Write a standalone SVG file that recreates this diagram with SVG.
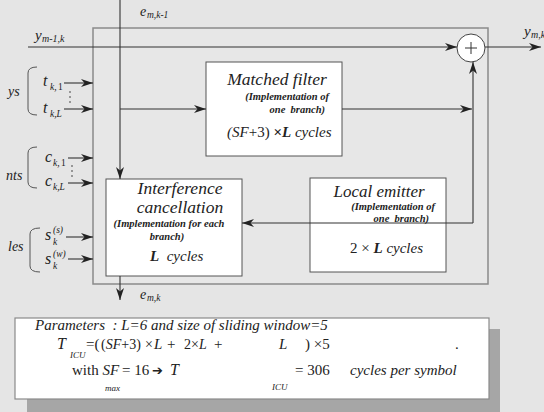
<svg xmlns="http://www.w3.org/2000/svg" width="544" height="412" viewBox="0 0 544 412" font-family="'Liberation Serif', 'DejaVu Serif', 'Times New Roman', serif">
<style>
text{fill:#222;font-family:'Liberation Serif','DejaVu Serif',serif}
.i{font-style:italic}
.bi{font-style:italic;font-weight:bold}
.b{font-weight:bold}
.ln{stroke:#333;stroke-width:1.1;fill:none}
.box{fill:#fff;stroke:#555;stroke-width:1}
.br{stroke:#555;stroke-width:1;fill:none}
</style>
<defs>
<marker id="ah" markerUnits="userSpaceOnUse" markerWidth="13" markerHeight="9" refX="12" refY="4.5" orient="auto">
<path d="M0,0.5 L12,4.5 L0,8.5 L3.5,4.5 z" fill="#222"/>
</marker>
</defs>
<rect x="0" y="0" width="544" height="412" fill="#e5e5e5"/>
<rect x="93" y="28" width="395" height="256" fill="#e7e7e7" stroke="#8a8a8a" stroke-width="1.5"/>

<g id="matched-filter">
<rect class="box" x="206" y="62" width="136" height="94"/>
<text class="i" x="277" y="85" font-size="17.5" text-anchor="middle">Matched filter</text>
<text class="bi" x="329" y="100" font-size="10.5" text-anchor="end">(Implementation of</text>
<text class="bi" x="325" y="113" font-size="10.5" text-anchor="end" xml:space="preserve">one  branch)</text>
<text x="227" y="137" font-size="15"><tspan class="i">(SF</tspan>+3) <tspan class="b">×</tspan><tspan class="bi">L</tspan> <tspan class="i">cycles</tspan></text>
</g>

<g id="interference-cancellation">
<rect class="box" x="106" y="179" width="136" height="97"/>
<text class="i" x="180" y="194" font-size="17.5" text-anchor="middle">Interference</text>
<text class="i" x="180" y="213" font-size="17.5" text-anchor="middle">cancellation</text>
<text class="bi" x="169" y="227" font-size="10.5" text-anchor="middle">(Implementation for each</text>
<text class="bi" x="167" y="240" font-size="10.5" text-anchor="middle">branch)</text>
<text x="150" y="261" font-size="15" xml:space="preserve"><tspan class="bi">L</tspan>  <tspan class="i">cycles</tspan></text>
</g>

<g id="local-emitter">
<rect class="box" x="310" y="178" width="136" height="94"/>
<text class="i" x="379" y="197" font-size="17" text-anchor="middle">Local emitter</text>
<text class="bi" x="435" y="210" font-size="10.5" text-anchor="end">(Implementation of</text>
<text class="bi" x="429" y="222" font-size="10.5" text-anchor="end" xml:space="preserve">one  branch)</text>
<text x="350" y="253" font-size="15">2 × <tspan class="bi">L</tspan> <tspan class="i">cycles</tspan></text>
</g>

<g id="inputs">
<path class="br" d="M37,67 Q28,67 28,73 L28,109 Q28,115 37,115"/>
<text class="i" x="8" y="96" font-size="14">ys</text>
<text class="i" x="43" y="86" font-size="16">t</text>
<text class="i" x="50" y="90" font-size="9.5">k,</text>
<text x="58" y="90" font-size="9.5">1</text>
<text class="i" x="43" y="113" font-size="16">t</text>
<text class="i" x="50" y="117" font-size="9.5">k,L</text>
<path class="br" d="M37,147 Q28,147 28,153 L28,182 Q28,188 37,188"/>
<text class="i" x="6" y="180" font-size="14">nts</text>
<text class="i" x="45" y="162" font-size="16">c</text>
<text class="i" x="53" y="166" font-size="9.5">k,</text>
<text x="61" y="166" font-size="9.5">1</text>
<text class="i" x="45" y="186" font-size="16">c</text>
<text class="i" x="53" y="190" font-size="9.5">k,L</text>
<path class="br" d="M40,228 Q30,228 30,234 L30,266 Q30,272 40,272"/>
<text class="i" x="8" y="251" font-size="14">les</text>
<text class="i" x="45" y="240" font-size="16">s</text>
<text class="i" x="53" y="245" font-size="9.5">k</text>
<text class="i" x="53" y="233" font-size="9.5">(s)</text>
<text class="i" x="45" y="264" font-size="16">s</text>
<text class="i" x="53" y="269" font-size="9.5">k</text>
<text class="i" x="53" y="257" font-size="9.5">(w)</text>
<text class="i" x="35" y="40" font-size="15">y</text>
<text class="i" x="42" y="42" font-size="10">m-1,k</text>
<text class="i" x="140" y="16" font-size="14">e</text>
<text class="i" x="147" y="18" font-size="9.5">m,k-1</text>
<text class="i" x="140" y="299" font-size="14">e</text>
<text class="i" x="147" y="301" font-size="9.5">m,k</text>
<text class="i" x="524" y="36" font-size="15">y</text>
<text class="i" x="531" y="38" font-size="10">m,k</text>
</g>

<g id="connectors">
<g fill="#333">
<circle cx="70" cy="92" r="0.8"/><circle cx="70" cy="97" r="0.8"/><circle cx="70" cy="102" r="0.8"/>
<circle cx="72" cy="166" r="0.8"/><circle cx="72" cy="171" r="0.8"/><circle cx="72" cy="176" r="0.8"/>
</g>
<path class="ln" d="M64,83 H93" marker-end="url(#ah)"/>
<path class="ln" d="M64,109 H93" marker-end="url(#ah)"/>
<path class="ln" d="M68,158 H93" marker-end="url(#ah)"/>
<path class="ln" d="M68,183 H93" marker-end="url(#ah)"/>
<path class="ln" d="M66,237 H93" marker-end="url(#ah)"/>
<path class="ln" d="M68,259 H93" marker-end="url(#ah)"/>
<path class="ln" d="M28,47 H457" marker-end="url(#ah)"/>
<path class="ln" d="M120,0 V179" marker-end="url(#ah)"/>
<path class="ln" d="M120,109 H206" marker-end="url(#ah)"/>
<path class="ln" d="M342,109 H472" marker-end="url(#ah)"/>
<path class="ln" d="M473,223 V62" marker-end="url(#ah)"/>
<path class="ln" d="M473,223 H242" marker-end="url(#ah)"/>
<path class="ln" d="M120,276 V300" marker-end="url(#ah)"/>
<path class="ln" d="M485,47 H541" marker-end="url(#ah)"/>
</g>

<g id="sum">
<circle cx="471" cy="48" r="14" fill="#fff" stroke="#444" stroke-width="1"/>
<path d="M465,48 H477 M471,42 V54" stroke="#333" stroke-width="1"/>
</g>

<g id="parameters">
<rect x="27" y="329" width="473" height="83" fill="#a6a6a6"/>
<rect x="15" y="318" width="474" height="81" fill="#fff" stroke="#8a8a8a" stroke-width="1.2"/>
<text class="i" x="35" y="330" font-size="15" xml:space="preserve">Parameters  : L=6 and size of sliding window=5</text>
<text class="i" x="57" y="349" font-size="16">T</text>
<text class="i" x="70" y="358" font-size="9">ICU</text>
<text x="86" y="349" font-size="15">=(</text>
<text x="101" y="349" font-size="14">(<tspan class="i">SF</tspan>+3)</text>
<text x="145" y="349" font-size="14">×</text>
<text class="i" x="154" y="349" font-size="15">L</text>
<text x="167" y="349" font-size="15">+</text>
<text x="184" y="349" font-size="14">2×<tspan class="i">L</tspan></text>
<text x="214" y="349" font-size="15">+</text>
<text class="i" x="279" y="349" font-size="15">L</text>
<text x="305" y="349" font-size="15">) ×5</text>
<text x="455" y="349" font-size="15">.</text>
<text x="72" y="375" font-size="15">with <tspan class="i">SF</tspan></text>
<text class="i" x="105" y="391" font-size="9">max</text>
<text x="122" y="375" font-size="15">= 16</text>
<text x="152" y="375" font-size="13" style="font-family:'DejaVu Sans',sans-serif">➔</text>
<text class="i" x="170" y="375" font-size="16">T</text>
<text class="i" x="272" y="390" font-size="9">ICU</text>
<text x="295" y="375" font-size="15">= 306</text>
<text class="i" x="350" y="375" font-size="15">cycles per symbol</text>
</g>
</svg>
